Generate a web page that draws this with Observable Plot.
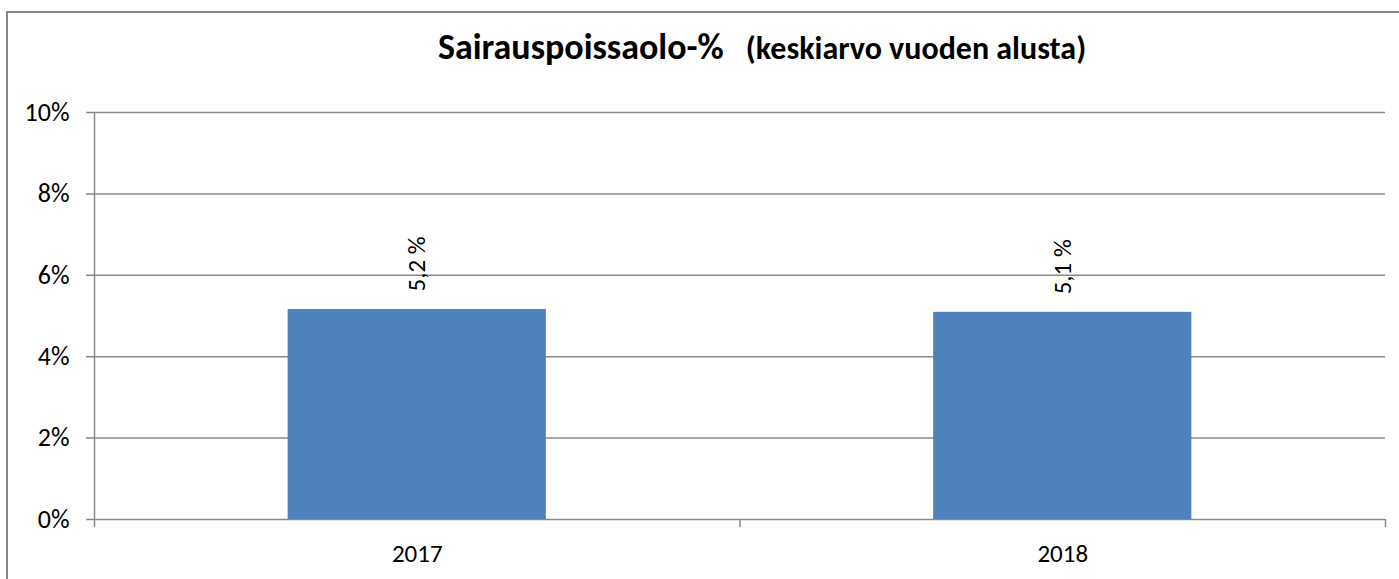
<!DOCTYPE html>
<html>
<head>
<meta charset="utf-8">
<script src="https://cdn.jsdelivr.net/npm/d3@7"></script>
<script src="https://cdn.jsdelivr.net/npm/@observablehq/plot@0.6"></script>
<style>
  html, body { margin: 0; padding: 0; background: #fff; overflow: hidden; }
  #wrap { position: relative; width: 1399px; height: 579px; font-family: Carlito, Lato, "Open Sans", sans-serif; }
  #frame { position: absolute; left: 6px; top: 11px; width: 1420px; height: 600px; border: 2px solid #868686; box-sizing: border-box; pointer-events: none; }
  #title { position: absolute; left: 124px; width: 1276px; top: 26px; line-height: 1.2; text-align: center; font-weight: bold; color: #000; white-space: nowrap; }
  #title .main { font-size: 36px; }
  #title .sub { font-size: 32px; margin-left: 22px; }
  #chart { position: absolute; left: 0; top: 80px; }
</style>
</head>
<body>
<div id="wrap">
  <div id="title"><span class="main">Sairauspoissaolo-%</span><span class="sub">(keskiarvo vuoden alusta)</span></div>
  <div id="chart"></div>
  <div id="frame"></div>
</div>
<script>
const years = ["2017", "2018"];
const values = [5.16, 5.09];
const yTicks = [0, 2, 4, 6, 8, 10];

const data = years.map((year, i) => ({ year, value: values[i], i }));
const fmtLabel = v => d3.format(".1f")(v).replace(".", ",") + " %";
const gridColor = "#8a8a8a";
const font = "Carlito, Lato, 'Open Sans', sans-serif";

const chart = Plot.plot({
  width: 1399,
  height: 499,
  marginLeft: 94,
  marginRight: 14,
  marginTop: 32,
  marginBottom: 60,
  style: { fontFamily: font, fontSize: "24px", color: "#000", background: "transparent" },
  x: { domain: [0, years.length], axis: null },
  y: { domain: [0, 10], axis: null },
  marks: [
    Plot.ruleY(yTicks, { x1: 0, x2: years.length, stroke: gridColor, strokeWidth: 1.5, insetLeft: -8 }),
    Plot.rectY(data, { x1: d => d.i + 0.3, x2: d => d.i + 0.7, y1: 0, y2: "value", fill: "#4f81bd" }),
    Plot.ruleX([0], { y1: 10, y2: 0, stroke: gridColor, strokeWidth: 1.5, insetBottom: -8 }),
    Plot.ruleX(d3.range(1, years.length + 1), { y1: 0, y2: 0, stroke: gridColor, strokeWidth: 1.5, insetBottom: -8 }),
    Plot.axisY({ ticks: yTicks, tickFormat: d => d + "%", tickSize: 0, tickPadding: 25, fontSize: 26, fill: "#000", label: null }),
    Plot.text(data, { x: d => d.i + 0.5, y: "value", text: d => fmtLabel(d.value), rotate: -90, textAnchor: "start", lineAnchor: "middle", dy: -18, fontSize: 25, fill: "#000" }),
    Plot.text(data, { x: d => d.i + 0.5, y: 0, text: "year", dy: 34, lineAnchor: "middle", fontSize: 25, fill: "#000" })
  ]
});
document.getElementById("chart").appendChild(chart);
</script>
</body>
</html>
